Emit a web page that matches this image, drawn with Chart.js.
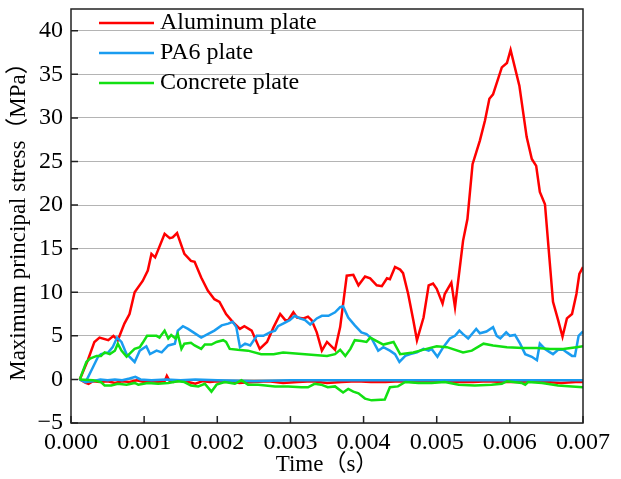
<!DOCTYPE html>
<html lang="en">
<head>
<meta charset="UTF-8" />
<title>Maximum principal stress vs time</title>
<script src="https://cdn.jsdelivr.net/npm/chart.js@4.4.1/dist/chart.umd.min.js"></script>
<style>
  html, body { margin: 0; padding: 0; background: #fff; }
  .wrap { width: 621px; height: 479px; }
</style>
</head>
<body>
<div class="wrap"><canvas id="stressChart" width="621" height="479"></canvas></div>
<script>
// Time (s) and stress (MPa) samples for each plate
const aluminumT = [0.00012, 0.00023, 0.00032, 0.00039, 0.00051, 0.00058, 0.00064, 0.00073, 0.0008, 0.00087,
  0.00098, 0.00105, 0.0011, 0.00115, 0.00128, 0.00135, 0.00139, 0.00145, 0.00155, 0.00164,
  0.00169, 0.00178, 0.00187, 0.00196, 0.00203, 0.00212, 0.00221, 0.00231, 0.00237, 0.00247,
  0.00258, 0.00268, 0.00277, 0.00286, 0.00293, 0.00297, 0.00304, 0.00309, 0.00318, 0.00324,
  0.00329, 0.00336, 0.00343, 0.0035, 0.00361, 0.00368, 0.00377, 0.00386, 0.00393, 0.00402,
  0.00409, 0.00418, 0.00425, 0.00432, 0.00436, 0.00443, 0.0045, 0.00454, 0.00461, 0.00468,
  0.00473, 0.00482, 0.00489, 0.00495, 0.005, 0.00508, 0.00511, 0.0052, 0.00525, 0.00536,
  0.00542, 0.00549, 0.00559, 0.00566, 0.00572, 0.00577, 0.00589, 0.00596, 0.00601, 0.00613,
  0.00623, 0.0063, 0.00636, 0.00641, 0.00648, 0.00659, 0.00666, 0.00672, 0.00678, 0.00685,
  0.00691, 0.00695, 0.007];
const aluminumS = [0, 2.2, 4.3, 4.8, 4.5, 5.0, 4.5, 6.4, 7.5, 10.0,
  11.3, 12.5, 14.4, 14.0, 16.7, 16.2, 16.3, 16.8, 14.4, 13.6,
  13.5, 11.7, 10.2, 9.2, 8.9, 7.5, 6.6, 5.8, 6.1, 5.6,
  3.5, 4.3, 6.0, 7.5, 6.8, 6.8, 7.7, 7.1, 7.0, 7.2,
  6.8, 5.4, 3.3, 4.3, 3.4, 6.0, 11.9, 12.0, 10.8, 11.8,
  11.6, 10.8, 10.7, 11.6, 11.5, 12.9, 12.6, 12.2, 9.8, 6.8,
  4.5, 7.1, 10.8, 11.0, 10.4, 8.7, 9.8, 11.1, 8.3, 15.9,
  18.4, 24.7, 27.4, 29.7, 32.2, 32.7, 35.8, 36.3, 37.8, 33.7,
  27.8, 25.3, 24.5, 21.5, 20.1, 8.9, 6.8, 4.9, 7.0, 7.5,
  9.8, 12.1, 12.9];

const aluminumLowT = [0.00012, 0.0002, 0.00024, 0.0003, 0.0004, 0.0005, 0.0006, 0.0007, 0.0008, 0.0009,
  0.001, 0.0011, 0.0012, 0.00128, 0.00131, 0.00135, 0.0014, 0.0015, 0.0016, 0.0017,
  0.0018, 0.0019, 0.002, 0.0021, 0.0022, 0.0023, 0.0025, 0.0027, 0.0029, 0.0031,
  0.0033, 0.0035, 0.0037, 0.0039, 0.0041, 0.0043, 0.0045, 0.0047, 0.0049, 0.0051,
  0.0053, 0.0055, 0.0057, 0.0059, 0.0061, 0.0063, 0.0065, 0.0067, 0.0069, 0.007];
const aluminumLowS = [0, -0.4, -0.5, -0.2, -0.3, -0.2, -0.4, -0.2, -0.3, -0.1,
  -0.3, -0.2, -0.3, -0.2, 0.4, -0.2, -0.3, -0.1, -0.3, -0.5,
  -0.2, -0.3, -0.2, -0.3, -0.2, -0.4, -0.3, -0.2, -0.4, -0.3,
  -0.2, -0.4, -0.3, -0.2, -0.3, -0.3, -0.2, -0.3, -0.3, -0.2,
  -0.3, -0.3, -0.2, -0.3, -0.3, -0.2, -0.3, -0.4, -0.3, -0.3];

const pa6T = [0.00012, 0.0002, 0.0003, 0.00037, 0.00041, 0.00051, 0.00057, 0.00063, 0.00069, 0.00076,
  0.0008, 0.00087, 0.00094, 0.00103, 0.00108, 0.00117, 0.00124, 0.00133, 0.00142, 0.00146,
  0.00153, 0.0016, 0.00171, 0.00178, 0.00187, 0.00196, 0.00206, 0.00215, 0.00221, 0.00226,
  0.00231, 0.00238, 0.00245, 0.00254, 0.00263, 0.00272, 0.00279, 0.00283, 0.0029, 0.00299,
  0.00306, 0.00313, 0.0032, 0.00327, 0.00336, 0.00343, 0.00352, 0.00361, 0.00368, 0.00372,
  0.00379, 0.00388, 0.00397, 0.00404, 0.00411, 0.0042, 0.00427, 0.00436, 0.00443, 0.00449,
  0.00457, 0.00464, 0.00473, 0.00482, 0.00489, 0.00493, 0.00501, 0.00509, 0.00518, 0.00525,
  0.00531, 0.00536, 0.00543, 0.00554, 0.00559, 0.00568, 0.00577, 0.00582, 0.00587, 0.00595,
  0.006, 0.00607, 0.00614, 0.00621, 0.0063, 0.00637, 0.00641, 0.00648, 0.00655, 0.00659,
  0.00666, 0.00673, 0.00678, 0.00685, 0.00689, 0.00694, 0.007];
const pa6S = [0, -0.3, 1.4, 2.6, 2.9, 3.1, 3.7, 4.8, 4.3, 2.9,
  2.6, 2.0, 3.3, 3.8, 2.9, 3.3, 3.1, 3.9, 4.1, 5.6,
  6.1, 5.8, 5.2, 4.8, 5.2, 5.6, 6.2, 6.4, 6.6, 6.0,
  3.7, 4.1, 3.9, 5.0, 5.0, 5.4, 5.6, 6.1, 6.4, 6.8,
  7.3, 7.0, 6.8, 6.3, 7.0, 7.3, 7.3, 7.7, 8.3, 8.4,
  7.1, 6.2, 5.4, 5.2, 4.7, 3.3, 3.7, 3.3, 2.9, 2.0,
  2.7, 2.9, 3.1, 3.5, 3.3, 3.5, 2.6, 3.7, 4.7, 5.0,
  5.6, 5.2, 4.7, 5.8, 5.3, 5.5, 6.0, 5.0, 4.7, 5.4,
  5.0, 5.1, 4.1, 2.9, 2.6, 2.2, 4.1, 3.5, 3.1, 2.9,
  3.4, 3.4, 3.1, 2.7, 2.7, 5.0, 5.5];

const pa6LowT = [0.00012, 0.0002, 0.0003, 0.0004, 0.0005, 0.0006, 0.0007, 0.0008, 0.00088, 0.00095,
  0.0011, 0.0013, 0.0015, 0.0017, 0.002, 0.0025, 0.003, 0.0035, 0.004, 0.0045,
  0.005, 0.0055, 0.006, 0.0065, 0.007];
const pa6LowS = [0, -0.3, -0.2, 0, -0.1, 0, -0.1, 0.1, 0.3, 0,
  -0.1, 0, -0.1, 0, -0.1, -0.2, -0.1, -0.1, -0.1, -0.1,
  -0.1, -0.1, -0.1, -0.1, -0.1];

const concreteT = [0.00012, 0.00021, 0.00026, 0.00035, 0.00041, 0.00046, 0.00053, 0.0006, 0.00064, 0.00069,
  0.00076, 0.00082, 0.00087, 0.00094, 0.00098, 0.00104, 0.0011, 0.00117, 0.00121, 0.00128,
  0.00133, 0.00137, 0.00143, 0.00146, 0.00151, 0.00155, 0.00164, 0.00169, 0.00178, 0.00183,
  0.00192, 0.00199, 0.00208, 0.00212, 0.00217, 0.00228, 0.00242, 0.0026, 0.00277, 0.0029,
  0.0032, 0.0035, 0.00361, 0.00368, 0.00375, 0.00382, 0.00388, 0.00397, 0.00404, 0.00409,
  0.00427, 0.00441, 0.0045, 0.00468, 0.00486, 0.005, 0.00514, 0.00536, 0.00548, 0.00564,
  0.00577, 0.00596, 0.00618, 0.00637, 0.00655, 0.00673, 0.00691, 0.007];
const concreteS = [0, 2.0, 2.4, 2.7, 2.7, 3.1, 2.9, 3.3, 4.1, 3.3,
  2.6, 3.1, 3.5, 3.7, 4.2, 5.0, 5.0, 5.0, 4.8, 5.6,
  4.7, 5.1, 4.7, 5.2, 3.5, 4.1, 4.2, 3.9, 3.5, 4.0,
  4.0, 4.3, 4.5, 4.3, 3.5, 3.4, 3.3, 2.9, 2.9, 3.1,
  2.9, 2.7, 2.9, 3.4, 2.7, 3.5, 4.5, 4.4, 4.3, 4.8,
  4.0, 4.3, 2.9, 3.1, 3.5, 3.8, 3.7, 3.1, 3.3, 4.1,
  3.9, 3.7, 3.6, 3.6, 3.5, 3.5, 3.7, 3.8];

const concreteLowT = [0.00012, 0.0003, 0.00041, 0.00046, 0.00055, 0.00064, 0.00076, 0.00087, 0.00092, 0.00105,
  0.00119, 0.00133, 0.00146, 0.00155, 0.00164, 0.00174, 0.00183, 0.00192, 0.00199, 0.0021,
  0.00224, 0.00233, 0.00242, 0.00256, 0.00279, 0.00297, 0.00315, 0.00324, 0.00333, 0.00342,
  0.00351, 0.00361, 0.00372, 0.00379, 0.00386, 0.00393, 0.00402, 0.00411, 0.00429, 0.00436,
  0.00447, 0.00457, 0.00475, 0.00493, 0.00511, 0.0053, 0.00552, 0.00575, 0.00589, 0.00596,
  0.00616, 0.00621, 0.00625, 0.00644, 0.00666, 0.00685, 0.007];
const concreteLowS = [0, -0.1, -0.3, -0.7, -0.7, -0.5, -0.6, -0.4, -0.6, -0.4,
  -0.5, -0.4, -0.2, -0.3, -0.7, -0.8, -0.5, -1.4, -0.6, -0.3,
  -0.5, -0.1, -0.6, -0.6, -0.8, -0.8, -0.9, -0.9, -0.5, -0.6,
  -0.9, -0.8, -1.5, -1.1, -1.4, -1.6, -2.2, -2.4, -2.3, -0.9,
  -0.8, -0.3, -0.4, -0.4, -0.3, -0.6, -0.7, -0.6, -0.5, -0.2,
  -0.4, -0.6, -0.3, -0.4, -0.7, -0.8, -0.9];

const seriesNames = ['Aluminum plate', 'PA6 plate', 'Concrete plate'];
const seriesColors = ['#ff0000', '#1a9cf0', '#12e012'];

const serif = "'Liberation Serif', 'Times New Roman', 'Noto Sans CJK SC', serif";

function toPoints(t, s) {
  return t.map((x, i) => ({ x: x, y: s[i] }));
}

function line(label, color, t, s, inKey, order) {
  return {
    label: label,
    data: toPoints(t, s),
    borderColor: color,
    backgroundColor: color,
    borderWidth: 2.5,
    pointRadius: 0,
    tension: 0,
    fill: false,
    inKey: inKey,
    order: order
  };
}

// frame around the plot, inward tick marks and the key in the top-left corner
const framePlugin = {
  id: 'frame',
  afterDatasetsDraw(chart) {
    const { ctx, chartArea: a, scales } = chart;
    ctx.save();
    ctx.strokeStyle = '#222';
    ctx.lineWidth = 1.5;
    ctx.strokeRect(a.left, a.top, a.right - a.left, a.bottom - a.top);
    ctx.beginPath();
    scales.x.ticks.forEach(tk => {
      const px = scales.x.getPixelForValue(tk.value);
      ctx.moveTo(px, a.bottom);
      ctx.lineTo(px, a.bottom - 7);
    });
    scales.y.ticks.forEach(tk => {
      const py = scales.y.getPixelForValue(tk.value);
      ctx.moveTo(a.left, py);
      ctx.lineTo(a.left + 7, py);
    });
    ctx.stroke();

    // key
    let row = 0;
    ctx.font = '24px ' + serif;
    ctx.textBaseline = 'middle';
    ctx.fillStyle = '#000';
    chart.data.datasets.forEach(ds => {
      if (!ds.inKey) return;
      const y = 23 + row * 30;
      ctx.strokeStyle = ds.borderColor;
      ctx.lineWidth = 2.5;
      ctx.beginPath();
      ctx.moveTo(99, y);
      ctx.lineTo(154, y);
      ctx.stroke();
      ctx.fillText(ds.label, 160, y);
      row++;
    });
    ctx.restore();
  }
};

new Chart(document.getElementById('stressChart'), {
  type: 'line',
  data: {
    datasets: [
      line(seriesNames[0], seriesColors[0], aluminumT, aluminumS, true, 6),
      line(seriesNames[0], seriesColors[0], aluminumLowT, aluminumLowS, false, 5),
      line(seriesNames[1], seriesColors[1], pa6T, pa6S, true, 4),
      line(seriesNames[1], seriesColors[1], pa6LowT, pa6LowS, false, 3),
      line(seriesNames[2], seriesColors[2], concreteT, concreteS, true, 2),
      line(seriesNames[2], seriesColors[2], concreteLowT, concreteLowS, false, 1)
    ]
  },
  options: {
    responsive: false,
    animation: false,
    devicePixelRatio: 1,
    layout: { padding: { top: 9, right: 38, left: 0, bottom: 0 } },
    plugins: {
      legend: { display: false },
      tooltip: { enabled: false }
    },
    scales: {
      x: {
        type: 'linear',
        min: 0,
        max: 0.007,
        afterFit: s => { s.height = 56; s.paddingLeft = 0; s.paddingRight = 0; },
        grid: { display: false, drawTicks: false },
        border: { display: false },
        ticks: {
          stepSize: 0.001,
          includeBounds: false,
          padding: 5,
          color: '#000',
          font: { family: serif, size: 24 },
          maxRotation: 0,
          callback: v => Number(v).toFixed(3)
        },
        title: {
          display: true,
          text: 'Time（s）',
          color: '#000',
          font: { family: serif, size: 23 },
          padding: { top: 0, bottom: 0 }
        }
      },
      y: {
        min: -5,
        max: 42.5,
        afterFit: s => { s.width = 71; s.paddingTop = 0; s.paddingBottom = 0; },
        grid: { color: '#b4b4b4', lineWidth: 1, drawTicks: false },
        border: { display: false },
        ticks: {
          stepSize: 5,
          includeBounds: false,
          padding: 8,
          color: '#000',
          font: { family: serif, size: 24 },
          callback: v => String(v).replace('-', '\u2212')
        },
        title: {
          display: true,
          text: 'Maximum principal stress（MPa）',
          color: '#000',
          font: { family: serif, size: 23 },
          padding: { top: 5, bottom: 0 }
        }
      }
    }
  },
  plugins: [framePlugin]
});
</script>
</body>
</html>
